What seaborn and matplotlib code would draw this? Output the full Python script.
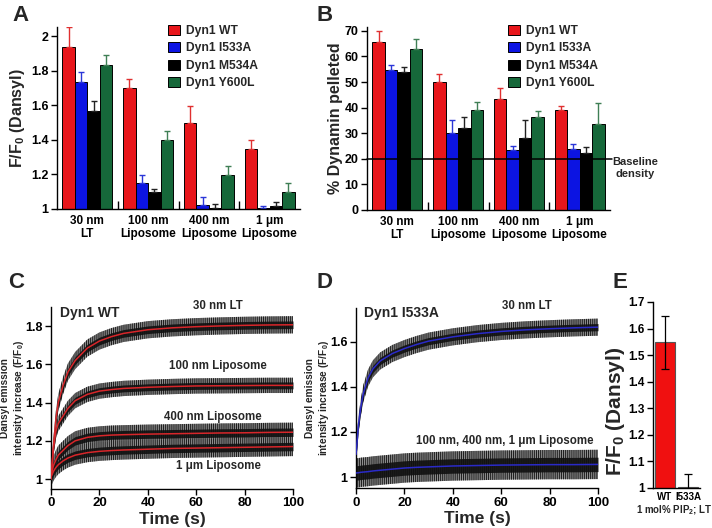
import numpy as np
import pandas as pd
import matplotlib
matplotlib.use('Agg')
import matplotlib.pyplot as plt
import seaborn as sns
from matplotlib.patches import Patch

sns.set_style('ticks')
plt.rcParams['font.family'] = ['Liberation Sans', 'DejaVu Sans']
plt.rcParams['font.weight'] = 'bold'
plt.rcParams['axes.labelweight'] = 'bold'
plt.rcParams['mathtext.fontset'] = 'custom'
plt.rcParams['mathtext.rm'] = 'Liberation Sans:bold'
plt.rcParams['mathtext.bf'] = 'Liberation Sans:bold'
plt.rcParams['mathtext.it'] = 'Liberation Sans:bold'
plt.rcParams['axes.linewidth'] = 1.0
plt.rcParams['axes.edgecolor'] = 'black'
plt.rcParams['xtick.color'] = 'black'
plt.rcParams['ytick.color'] = 'black'
plt.rcParams['hatch.linewidth'] = 0.7

# ---------------- data ----------------
conditions = ['30 nm\nLT', '100 nm\nLiposome', '400 nm\nLiposome', '1 μm\nLiposome']
variants = ['Dyn1 WT', 'Dyn1 I533A', 'Dyn1 M534A', 'Dyn1 Y600L']
variant_colors = ['#e8161b', '#0c14e2', '#000000', '#16683a']
err_colors = ['#e03030', '#2a36d8', '#222222', '#3f7f55']

# Panel A: F/F0 (Dansyl), bar heights and upper error-bar tops
a_wt = [1.935, 1.698, 1.498, 1.348]
a_i533a = [1.735, 1.148, 1.023, 1.008]
a_m534a = [1.567, 1.098, 1.008, 1.019]
a_y600l = [1.833, 1.400, 1.198, 1.100]
a_wt_top = [2.05, 1.75, 1.598, 1.398]
a_i533a_top = [1.79, 1.198, 1.071, 1.016]
a_m534a_top = [1.627, 1.117, 1.027, 1.038]
a_y600l_top = [1.89, 1.45, 1.25, 1.15]
a_yticks = [1, 1.2, 1.4, 1.6, 1.8, 2]
a_yticklabels = ['1', '1.2', '1.4', '1.6', '1.8', '2']

# Panel B: % Dynamin pelleted
b_wt = [65.7, 50.2, 43.3, 39.1]
b_i533a = [54.7, 30.2, 23.4, 23.9]
b_m534a = [54.1, 32.2, 28.3, 22.1]
b_y600l = [62.8, 38.9, 36.5, 33.5]
b_wt_top = [70.0, 53.3, 47.5, 40.6]
b_i533a_top = [56.6, 35.1, 25.0, 25.6]
b_m534a_top = [55.7, 36.2, 35.1, 24.7]
b_y600l_top = [67.0, 42.1, 38.5, 41.7]
b_baseline = 20
b_yticks = [0, 10, 20, 30, 40, 50, 60, 70]

# Panels C/D: kinetic fits (F/F0) read at these times (s)
t_fit = [0, 1, 2, 3, 5, 7, 10, 15, 20, 25, 30, 40, 50, 60, 70, 80, 90, 100]
c_30nm = [1.00, 1.17, 1.31, 1.40, 1.49, 1.56, 1.62, 1.685, 1.722, 1.745, 1.762, 1.781, 1.791, 1.797, 1.801, 1.804, 1.806, 1.807]
c_100nm = [1.00, 1.16, 1.25, 1.29, 1.33, 1.37, 1.41, 1.443, 1.46, 1.468, 1.474, 1.48, 1.484, 1.487, 1.488, 1.489, 1.49, 1.49]
c_400nm = [1.02, 1.07, 1.10, 1.125, 1.15, 1.175, 1.20, 1.218, 1.226, 1.23, 1.232, 1.235, 1.237, 1.239, 1.241, 1.242, 1.244, 1.245]
c_1um = [1.01, 1.04, 1.06, 1.075, 1.095, 1.11, 1.125, 1.138, 1.145, 1.149, 1.152, 1.156, 1.16, 1.162, 1.164, 1.166, 1.168, 1.17]
c_noise = [0.02, 0.018, 0.022, 0.022]       # dense-noise half-width of each raw trace
c_noise_peak = [0.045, 0.04, 0.05, 0.05]    # spike half-width of each raw trace
d_30nm = [1.10, 1.23, 1.31, 1.37, 1.44, 1.48, 1.515, 1.548, 1.57, 1.588, 1.603, 1.622, 1.636, 1.646, 1.653, 1.658, 1.662, 1.665]
d_lipo = [1.018, 1.019, 1.021, 1.022, 1.024, 1.027, 1.03, 1.035, 1.04, 1.043, 1.045, 1.049, 1.051, 1.053, 1.054, 1.055, 1.055, 1.056]
d_noise = [0.016, 0.032]
d_noise_peak = [0.038, 0.065]
c_yticks = [1, 1.2, 1.4, 1.6, 1.8]
c_yticklabels = ['1', '1.2', '1.4', '1.6', '1.8']
d_yticks = [1, 1.2, 1.4, 1.6]
d_yticklabels = ['1', '1.2', '1.4', '1.6']
time_ticks = [0, 20, 40, 60, 80, 100]

# Panel E
e_labels = ['WT', 'I533A']
e_values = [1.548, 1.005]
e_err = [0.10, 0.048]
e_colors = ['#f01010', '#1020d0']
e_yticks = [1, 1.1, 1.2, 1.3, 1.4, 1.5, 1.6, 1.7]
e_yticklabels = ['1', '1.1', '1.2', '1.3', '1.4', '1.5', '1.6', '1.7']

W, H = 712, 528
fig = plt.figure(figsize=(W / 100, H / 100), dpi=100)


def px_axes(left, top, right, bottom):
    return fig.add_axes([left / W, 1 - bottom / H, (right - left) / W, (bottom - top) / H])


def bar_panel(ax, series, tops, ylabel):
    rows = []
    for v, vals in zip(variants, series):
        for c, val in zip(conditions, vals):
            rows.append({'cond': c, 'variant': v, 'value': val})
    df = pd.DataFrame(rows)
    sns.barplot(data=df, x='cond', y='value', hue='variant', order=conditions,
                hue_order=variants, palette=variant_colors, width=0.82,
                edgecolor='black', linewidth=0.7, errorbar=None, saturation=1,
                legend=False, ax=ax)
    bar_conts = list(ax.containers)
    for i, cont in enumerate(bar_conts):
        for j, bar in enumerate(list(cont)):
            x = bar.get_x() + bar.get_width() / 2
            h = bar.get_height()
            ax.errorbar(x, h, yerr=[[0], [tops[i][j] - h]], fmt='none',
                        ecolor=err_colors[i], elinewidth=1.0, capsize=2.5,
                        capthick=1.0, zorder=1)
    ax.set_xlim(-0.5, 3.5)
    ax.set_xlabel('')
    ax.set_ylabel(ylabel, fontsize=11.5, fontweight='bold')
    ax.set_xticks(range(4))
    ax.set_xticklabels(conditions, fontsize=8.5, fontweight='bold', linespacing=1.15)
    ax.tick_params(axis='x', length=0, pad=4)
    ax.set_xticks([0.5, 1.5, 2.5], minor=True)
    ax.tick_params(axis='x', which='minor', direction='in', length=6, width=1)
    ax.tick_params(axis='y', direction='out', length=4, width=1, labelsize=9, pad=2)
    sns.despine(ax=ax)
    handles = [Patch(facecolor=c, edgecolor='black', linewidth=0.7) for c in variant_colors]
    return handles


# ---------------- Panel A ----------------
axA = px_axes(57, 27.4, 300, 209)
hA = bar_panel(axA, [a_wt, a_i533a, a_m534a, a_y600l],
               [a_wt_top, a_i533a_top, a_m534a_top, a_y600l_top],
               r'F/F$_0$ (Dansyl)')
axA.set_ylim(1, 2.05)
axA.set_yticks(a_yticks)
axA.set_yticklabels(a_yticklabels, fontweight='bold', fontsize=9)
axA.yaxis.set_label_coords(-0.125, 0.5)
axA.legend(hA, variants, loc='upper left', bbox_to_anchor=(168 / W, 1 - 25 / H),
           bbox_transform=fig.transFigure, frameon=False,
           prop={'weight': 'bold', 'size': 8.7}, handlelength=1.0,
           handleheight=0.85, handletextpad=0.5, labelspacing=0.45,
           borderaxespad=0, borderpad=0)

# ---------------- Panel B ----------------
axB = px_axes(367, 27, 610, 210)
hB = bar_panel(axB, [b_wt, b_i533a, b_m534a, b_y600l],
               [b_wt_top, b_i533a_top, b_m534a_top, b_y600l_top],
               '% Dynamin pelleted')
axB.set_ylim(0, 71.5)
axB.set_yticks(b_yticks)
axB.set_yticklabels([str(v) for v in b_yticks], fontweight='bold', fontsize=9)
axB.yaxis.set_label_coords(-0.098, 0.5)
axB.axhline(b_baseline, xmin=0, xmax=1.01, color='black', lw=1.1, zorder=5, clip_on=False)
axB.text(3.91, 16.4, 'Baseline\ndensity', ha='center', va='center', fontsize=8,
         fontweight='bold', linespacing=1.15, clip_on=False)
axB.legend(hB, variants, loc='upper left', bbox_to_anchor=(508 / W, 1 - 25 / H),
           bbox_transform=fig.transFigure, frameon=False,
           prop={'weight': 'bold', 'size': 8.7}, handlelength=1.0,
           handleheight=0.85, handletextpad=0.5, labelspacing=0.45,
           borderaxespad=0, borderpad=0)


# ---------------- kinetic panels ----------------
def trace(ax, vals, hw, hw_peak, fit_color):
    t = np.array(t_fit, dtype=float)
    v = np.array(vals, dtype=float)
    ax.fill_between(t, v - hw_peak, v + hw_peak, facecolor='#8e8e8e', edgecolor='#1a1a1a',
                    hatch='|' * 8, lw=0, zorder=2)
    ax.fill_between(t, v - hw, v + hw, color='#101010', alpha=0.9, lw=0, zorder=3)
    sns.lineplot(x=t_fit, y=vals, color=fit_color, lw=1.1, ax=ax, zorder=4)


def kin_axes(ax, yticks, ylabels):
    ax.set_xlim(0, 100)
    ax.set_xticks(time_ticks)
    ax.set_xticklabels([str(v) for v in time_ticks], fontsize=9.5, fontweight='bold')
    ax.set_yticks(yticks)
    ax.set_yticklabels(ylabels, fontsize=9, fontweight='bold')
    ax.tick_params(direction='out', length=4, width=1, pad=2)
    ax.set_xlabel('Time (s)', fontsize=12.5, fontweight='bold', labelpad=2)
    ax.set_ylabel('Dansyl emission\n' + r'intensity increase (F/F$_0$)', fontsize=7.3,
                  fontweight='bold', linespacing=1.15)
    sns.despine(ax=ax)


axC = px_axes(51, 307, 293, 488.6)
for vals, hw, hwp in zip([c_30nm, c_100nm, c_400nm, c_1um], c_noise, c_noise_peak):
    trace(axC, vals, hw, hwp, '#d8262a')
axC.set_ylim(0.95, 1.9)
kin_axes(axC, c_yticks, c_yticklabels)
axC.yaxis.set_label_coords(-0.104, 0.5)
axC.text(3.7, 1.868, 'Dyn1 WT', fontsize=10, fontweight='bold', va='center', ha='left')
axC.text(69, 1.905, '30 nm LT', fontsize=8.3, fontweight='bold', va='center', ha='center', clip_on=False)
axC.text(69, 1.59, '100 nm Liposome', fontsize=8.3, fontweight='bold', va='center', ha='center')
axC.text(67, 1.324, '400 nm Liposome', fontsize=8.3, fontweight='bold', va='center', ha='center')
axC.text(69, 1.068, '1 μm Liposome', fontsize=8.3, fontweight='bold', va='center', ha='center')

axD = px_axes(356, 308, 598, 488.3)
for vals, hw, hwp in zip([d_30nm, d_lipo], d_noise, d_noise_peak):
    trace(axD, vals, hw, hwp, '#2a2ac8')
axD.set_ylim(0.95, 1.75)
kin_axes(axD, d_yticks, d_yticklabels)
axD.yaxis.set_label_coords(-0.105, 0.5)
axD.text(3.3, 1.727, 'Dyn1 I533A', fontsize=10, fontweight='bold', va='center', ha='left')
axD.text(70.5, 1.758, '30 nm LT', fontsize=8.3, fontweight='bold', va='center', ha='center', clip_on=False)
axD.text(61.4, 1.16, '100 nm, 400 nm, 1 μm Liposome', fontsize=8.3, fontweight='bold',
         va='center', ha='center')

# ---------------- Panel E ----------------
axE = px_axes(653, 302, 700, 488)
dfE = pd.DataFrame({'label': e_labels, 'value': e_values})
sns.barplot(data=dfE, x='label', y='value', hue='label', palette=e_colors, width=0.86,
            edgecolor='#555555', linewidth=0.8, errorbar=None, saturation=1,
            legend=False, ax=axE)
e_bars = list(axE.patches)
for j, bar in enumerate(e_bars):
    x = bar.get_x() + bar.get_width() / 2
    axE.errorbar(x, bar.get_height(), yerr=e_err[j], fmt='none', ecolor='black',
                 elinewidth=0.9, capsize=3, capthick=0.9, zorder=5)
axE.set_xlim(-0.5, 1.5)
axE.set_ylim(1, 1.7)
axE.set_yticks(e_yticks)
axE.set_yticklabels(e_yticklabels, fontsize=8.5, fontweight='bold')
axE.tick_params(axis='y', direction='out', length=4, width=1, pad=2)
axE.tick_params(axis='x', length=0, pad=3, labelsize=7)
axE.set_xlabel('1 mol% PIP$_2$; LT', fontsize=7.0, fontweight='bold', labelpad=3)
axE.xaxis.set_label_coords(0.45, -0.085)
axE.set_ylabel(r'F/F$_0$ (Dansyl)', fontsize=15, fontweight='bold')
axE.yaxis.set_label_coords(-0.55, 0.41)
sns.despine(ax=axE)

# ---------------- panel letters ----------------
for letter, x, y in [('A', 12, 21), ('B', 316, 21), ('C', 8, 288), ('D', 316, 288), ('E', 612, 288)]:
    fig.text(x / W, 1 - y / H, letter, fontsize=16, fontweight='bold', va='baseline', ha='left')

fig.savefig('out.png', dpi=100)
